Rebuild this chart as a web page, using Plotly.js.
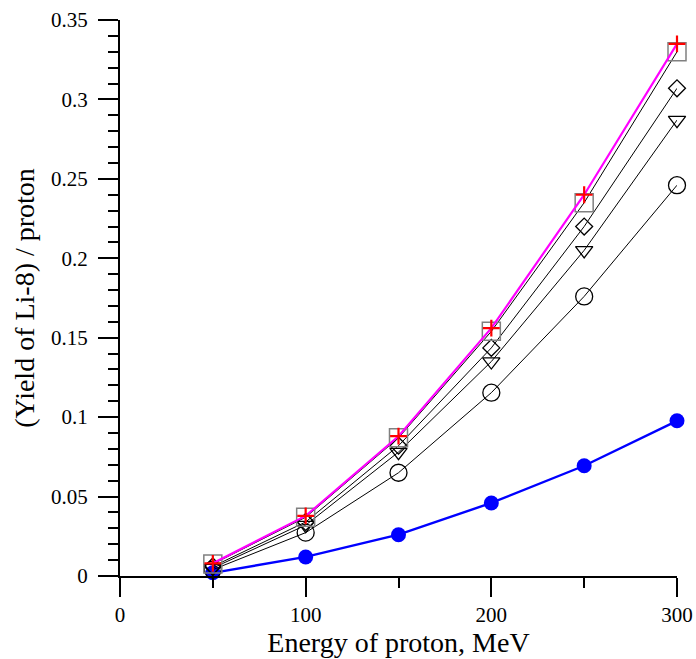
<!DOCTYPE html>
<html>
<head>
<meta charset="utf-8">
<script src="https://cdn.plot.ly/plotly-3.0.1.min.js"></script>
<style>html,body{margin:0;padding:0;background:#fff;}#chart{width:696px;height:659px;}</style>
</head>
<body>
<div id="chart"></div>
<script>
var energy = [50, 100, 150, 200, 250, 300];
var yieldSquare   = [0.0075, 0.037, 0.087, 0.154, 0.235, 0.330];
var yieldPlus     = [0.008, 0.0378, 0.088, 0.156, 0.240, 0.335];
var yieldDiamond  = [0.006, 0.034, 0.082, 0.1436, 0.220, 0.307];
var yieldTriangle = [0.005, 0.032, 0.078, 0.135, 0.205, 0.287];
var yieldCircle   = [0.004, 0.0273, 0.065, 0.1154, 0.176, 0.246];
var yieldBlue     = [0.002, 0.012, 0.026, 0.046, 0.0694, 0.0977];

var xTickVals = [0, 100, 200, 300];
var xTickText = ['0', '100', '200', '300'];
var yTickVals = [0, 0.05, 0.1, 0.15, 0.2, 0.25, 0.3, 0.35];
var yTickText = ['0', '0.05', '0.1', '0.15', '0.2', '0.25', '0.3', '0.35'];

var serif = 'Liberation Serif, Times New Roman, serif';

var traces = [
  {x: energy, y: yieldBlue, mode: 'lines+markers', cliponaxis: false,
   line: {color: '#0000ff', width: 2.4},
   marker: {symbol: 'circle', size: 15, color: '#0000ff'}},
  {x: energy, y: yieldCircle, mode: 'lines+markers', cliponaxis: false,
   line: {color: '#000', width: 1},
   marker: {symbol: 'circle-open', size: 17, color: '#000', line: {width: 1.3, color: '#000'}}},
  {x: energy, y: yieldTriangle, mode: 'lines+markers', cliponaxis: false,
   line: {color: '#000', width: 1},
   marker: {symbol: 'triangle-down-open', size: 15, color: '#000', line: {width: 1.3, color: '#000'}}},
  {x: energy, y: yieldDiamond, mode: 'lines+markers', cliponaxis: false,
   line: {color: '#000', width: 1},
   marker: {symbol: 'diamond-open', size: 13, color: '#000', line: {width: 1.3, color: '#000'}}},
  {x: energy, y: yieldSquare, mode: 'lines+markers', cliponaxis: false,
   line: {color: '#000', width: 1},
   marker: {symbol: 'square-open', size: 18, color: '#808080', line: {width: 1.5, color: '#808080'}}},
  {x: energy, y: yieldPlus, mode: 'lines+markers', cliponaxis: false,
   line: {color: '#ff00ff', width: 2.2},
   marker: {symbol: 'cross-thin-open', size: 12, color: '#ff0000', line: {width: 2.2, color: '#ff0000'}}}
];

var layout = {
  width: 696, height: 659,
  margin: {l: 120, r: 19, t: 20, b: 83},
  paper_bgcolor: '#fff', plot_bgcolor: '#fff',
  showlegend: false,
  font: {family: serif, color: '#000', size: 21},
  xaxis: {
    range: [0, 300], showgrid: false, zeroline: false,
    showline: true, linecolor: '#000', linewidth: 2,
    ticks: 'outside', ticklen: 19, tickwidth: 2, tickcolor: '#000',
    tickmode: 'array', tickvals: xTickVals, ticktext: xTickText,
    minor: {tickmode: 'linear', tick0: 0, dtick: 50, ticks: 'outside', ticklen: 10, tickwidth: 2, tickcolor: '#000', showgrid: false},
    tickfont: {family: serif, size: 21, color: '#000'},
    title: {text: 'Energy of proton, MeV', font: {family: serif, size: 28, color: '#000'}, standoff: 6}
  },
  yaxis: {
    range: [0, 0.35], showgrid: false, zeroline: false,
    showline: true, linecolor: '#000', linewidth: 2,
    ticks: 'outside', ticklen: 20, tickwidth: 2, tickcolor: '#000',
    tickmode: 'array', tickvals: yTickVals, ticktext: yTickText,
    minor: {tickmode: 'linear', tick0: 0, dtick: 0.01, ticks: 'outside', ticklen: 10, tickwidth: 2, tickcolor: '#000', showgrid: false},
    tickfont: {family: serif, size: 21, color: '#000'},
    ticklabelstandoff: 6,
    title: {text: '(Yield of Li-8) / proton', font: {family: serif, size: 28, color: '#000'}, standoff: 8}
  }
};

Plotly.newPlot('chart', traces, layout, {displayModeBar: false, staticPlot: true});
</script>
</body>
</html>
